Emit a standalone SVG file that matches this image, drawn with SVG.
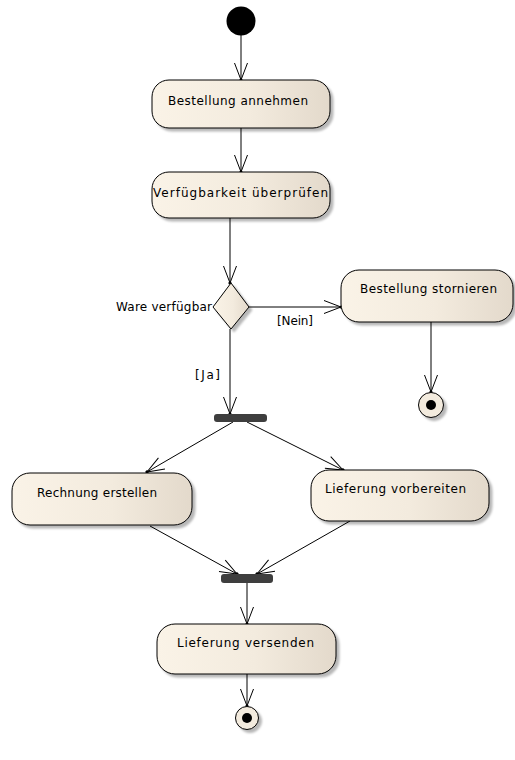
<svg xmlns="http://www.w3.org/2000/svg" width="515" height="760" viewBox="0 0 515 760">
  <style>
    .act { stroke: #000; stroke-width: 1; fill: url(#cream); filter: url(#shadow); }
    .lbl { font-family: "DejaVu Sans", "Liberation Sans", sans-serif; font-size: 12px; fill: #000; }
    .flow { stroke: #000; stroke-width: 1; fill: none; marker-end: url(#arrow); }
    .bar { fill: #3e3e3e; }
  </style>
  <defs>
    <linearGradient id="cream" x1="0" y1="0" x2="1" y2="0">
      <stop offset="0" stop-color="#faf3e7"/>
      <stop offset="0.55" stop-color="#f3ebde"/>
      <stop offset="1" stop-color="#e3d9cb"/>
    </linearGradient>
    <filter id="shadow" x="-10%" y="-10%" width="130%" height="140%">
      <feGaussianBlur in="SourceAlpha" stdDeviation="1.2" result="b"/>
      <feOffset in="b" dx="3" dy="3" result="o"/>
      <feFlood flood-color="#000" flood-opacity="0.28"/>
      <feComposite in2="o" operator="in" result="s"/>
      <feMerge>
        <feMergeNode in="s"/>
        <feMergeNode in="SourceGraphic"/>
      </feMerge>
    </filter>
    <marker id="arrow" viewBox="-19 -8 21 16" refX="0" refY="0" markerWidth="21" markerHeight="16" orient="auto" markerUnits="userSpaceOnUse">
      <path d="M-17,-6.5 L0,0 L-17,6.5" fill="none" stroke="#000" stroke-width="1"/>
      <circle cx="0" cy="0" r="1.6" fill="#000"/>
    </marker>
  </defs>

  <!-- control flows -->
  <g id="connectors">
    <path class="flow" d="M241,35 L241,80"/>
    <path class="flow" d="M241,128 L241,172"/>
    <path class="flow" d="M230,218 L230,283"/>
    <path class="flow" d="M249,307 L341,307"/>
    <path class="flow" d="M431,322 L431,392"/>
    <path class="flow" d="M230,329 L230,414"/>
    <path class="flow" d="M233,422 L147,472"/>
    <path class="flow" d="M247,422 L343,470"/>
    <path class="flow" d="M150,526 L237,574"/>
    <path class="flow" d="M350,521 L257,574"/>
    <path class="flow" d="M247,583 L247,624"/>
    <path class="flow" d="M247,674 L247,706"/>
    <text class="lbl" x="116" y="311" textLength="96" lengthAdjust="spacing">Ware verfügbar</text>
    <text class="lbl" x="277" y="325" textLength="36" lengthAdjust="spacing">[Nein]</text>
    <text class="lbl" x="195" y="379" textLength="25" lengthAdjust="spacing">[Ja]</text>
  </g>

  <g id="start">
    <circle cx="241" cy="21" r="14.5" fill="#000"/>
  </g>

  <g id="bestellung-annehmen">
    <rect class="act" x="152" y="80" width="178" height="48" rx="17"/>
    <text class="lbl" x="168" y="105" textLength="140" lengthAdjust="spacing">Bestellung annehmen</text>
  </g>

  <g id="verfuegbarkeit-pruefen">
    <rect class="act" x="152" y="172" width="178" height="46" rx="17"/>
    <text class="lbl" x="153" y="197" textLength="175" lengthAdjust="spacing">Verfügbarkeit überprüfen</text>
  </g>

  <g id="entscheidung">
    <polygon class="act" points="231,283 249,307 231,329 213,307"/>
  </g>

  <g id="bestellung-stornieren">
    <rect class="act" x="341" y="270" width="172" height="52" rx="18"/>
    <text class="lbl" x="360" y="293" textLength="137" lengthAdjust="spacing">Bestellung stornieren</text>
  </g>

  <g id="ende-storno">
    <circle cx="431" cy="405" r="12.5" fill="#f3ebde" stroke="#000" stroke-width="1" filter="url(#shadow)"/>
    <circle cx="431" cy="405" r="5" fill="#000"/>
  </g>

  <g id="gabelung">
    <rect class="bar" x="214" y="414" width="53" height="8" rx="3"/>
  </g>

  <g id="rechnung-erstellen">
    <rect class="act" x="12" y="473" width="180" height="52" rx="18"/>
    <text class="lbl" x="37" y="497" textLength="120" lengthAdjust="spacing">Rechnung erstellen</text>
  </g>

  <g id="lieferung-vorbereiten">
    <rect class="act" x="311" y="470" width="178" height="51" rx="18"/>
    <text class="lbl" x="325" y="493" textLength="141" lengthAdjust="spacing">Lieferung vorbereiten</text>
  </g>

  <g id="vereinigung">
    <rect class="bar" x="221" y="574" width="52" height="9" rx="3"/>
  </g>

  <g id="lieferung-versenden">
    <rect class="act" x="157" y="624" width="179" height="50" rx="18"/>
    <text class="lbl" x="177" y="647" textLength="137" lengthAdjust="spacing">Lieferung versenden</text>
  </g>

  <g id="ende">
    <circle cx="247" cy="718" r="11.5" fill="#f3ebde" stroke="#000" stroke-width="1" filter="url(#shadow)"/>
    <circle cx="247" cy="718" r="5" fill="#000"/>
  </g>
</svg>
